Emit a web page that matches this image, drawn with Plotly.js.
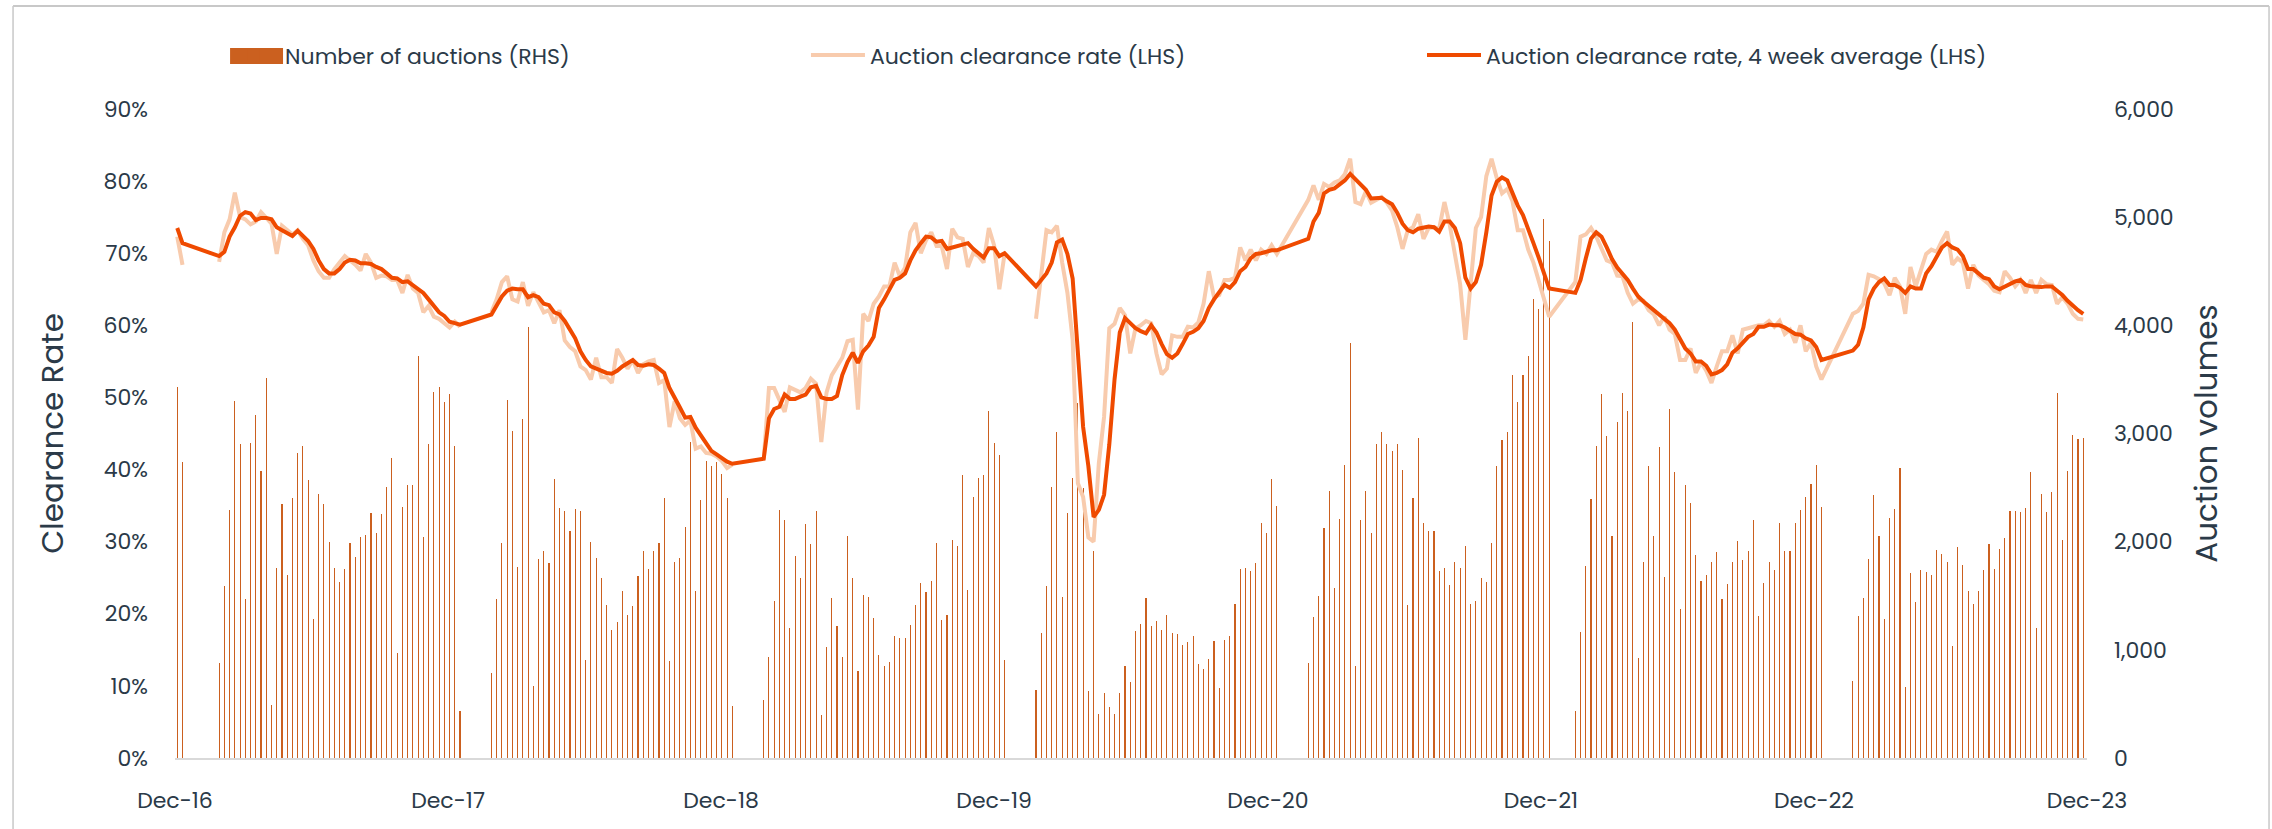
<!DOCTYPE html>
<html>
<head>
<meta charset="utf-8">
<script src="https://cdn.plot.ly/plotly-3.0.1.min.js"></script>
<style>html,body{margin:0;padding:0;background:#fff;}</style>
</head>
<body>
<div id="chart" style="width:2272px;height:829px;"></div>
<script>
// ---------- DATA (weekly) ----------
const seasonStarts = ['2016-12-04','2017-01-29','2018-01-28','2019-01-27','2020-01-26','2021-01-24','2022-01-16','2023-01-22'];
// raw clearance-rate line connects across the summer gap before these seasons
const rawConnectsToPrevious = [false,false,false,false,false,true,true,true];

const auctions2016 = [3428,2732];
const auctions2017 = [880,1592,2292,3300,2900,1472,2916,3168,2656,3516,492,1752,2348,1688,2408,2824,2880,2572,1284,2440,2352,1996,1760,1624,1748,1984,1856,2040,2064,2268,2076,2256,2508,2776,968,2316,2524,2520,3712,2044,2904,3384,3432,3292,3368,2888,432];
const auctions2018 = [788,1468,1992,3312,3024,1764,3136,3988,668,1836,1916,1800,2576,2312,2280,2100,2300,2280,904,1996,1852,1668,1412,1180,1260,1540,1324,1404,1684,1916,1748,1916,1984,2404,896,1816,1852,2140,2924,1540,2384,2744,2700,2740,2628,2408,480];
const auctions2019 = [536,932,1448,2296,2200,1200,1872,1668,2164,1980,2280,400,1024,1476,1216,932,2052,1660,804,1508,1484,1296,956,848,892,1124,1112,1112,1228,1416,1620,1536,1636,1984,1280,1324,2020,1956,2620,1556,2412,2588,2612,3204,2908,2800,908];
const auctions2020 = [628,1160,1590,2510,3015,1485,2265,2590,3280,2500,620,1910,405,605,470,410,605,850,700,1170,1240,1475,1224,1268,1180,1324,1152,1148,1048,1068,1124,868,820,912,1080,648,1088,1132,1428,1748,1752,1732,1804,2172,2084,2580,2328];
const auctions2021 = [880,1304,1496,2128,2472,1568,2212,2708,3836,848,2196,2464,2084,2900,3012,2900,2836,2900,2660,1412,2400,2960,2168,2100,2096,1728,1756,1604,1816,1760,1956,1420,1448,1668,1624,1984,2704,2940,3016,3544,3292,3540,3712,4248,4152,4980,4780];
const auctions2022 = [432,1168,1772,2396,2884,3368,2980,2056,3108,3372,3212,4032,928,1816,2696,2056,2876,1672,3224,2648,1380,2528,2360,1876,1632,1688,1812,1908,1472,1612,1812,2004,1828,1916,2200,1316,1620,1812,1740,2168,1916,1916,2168,2296,2412,2532,2712,2320];
const auctions2023 = [712,1316,1476,1844,2428,2052,1284,2220,2300,2680,652,1708,1440,1740,1720,1688,1920,1884,1812,1032,1948,1788,1540,1428,1540,1736,1976,1748,1928,2036,2280,2280,2272,2312,2648,1200,2444,2276,2460,3376,2020,2652,2988,2948,2960];

const rate2016 = [72.3,68.4];
const rate2017 = [68.8,72.9,74.7,78.4,75.0,74.7,74.0,74.4,75.7,74.9,74.1,69.9,73.8,73.2,72.6,73.2,72.0,71.1,69.0,67.5,66.6,66.6,67.8,68.7,69.6,69.0,68.4,67.6,69.9,68.7,66.6,66.9,66.8,66.3,66.3,64.5,67.0,65.1,64.5,61.8,62.7,61.2,60.9,60.3,59.7,60.5,59.8];
const rate2018 = [61.8,63.6,66.0,66.8,63.6,63.3,66.0,62.7,64.6,63.3,61.8,62.1,60.3,62.1,57.9,57.0,56.4,54.3,53.8,52.5,55.5,52.8,52.8,52.0,56.7,55.5,54.0,55.2,53.4,54.6,55.0,55.2,52.0,52.4,45.9,49.5,47.1,46.2,46.8,42.9,43.2,42.3,42.2,41.8,41.2,40.2,40.7];
const rate2019 = [41.4,51.3,51.3,49.5,48.0,51.4,51.0,50.7,51.3,52.6,51.9,43.8,50.7,53.1,54.3,55.5,57.8,58.0,48.3,61.6,60.6,63.0,64.0,65.4,65.4,68.7,66.8,68.0,72.9,74.2,70.0,71.8,72.9,71.0,71.0,67.8,73.4,72.2,72.0,68.1,70.0,69.6,68.7,73.5,71.1,65.0,69.9];
const rate2020 = [60.9,67.5,73.2,72.9,73.8,68.7,64.5,58.0,38.1,36.2,30.6,30.0,40.9,47.3,59.6,60.2,62.4,61.4,56.1,59.6,60.0,60.6,60.3,56.1,53.2,54.0,58.6,58.4,58.4,59.8,59.7,60.4,63.0,67.5,63.9,64.2,66.3,66.3,66.6,70.8,69.0,70.5,69.0,70.5,69.9,71.1,69.9];
const rate2021 = [77.4,79.4,77.4,79.6,79.2,79.8,80.1,81.0,83.1,77.1,76.8,78.6,77.0,77.4,77.8,77.0,75.9,73.6,70.6,73.2,73.6,75.4,72.0,73.5,73.6,73.4,77.1,74.0,70.2,65.7,58.0,65.1,73.5,75.0,80.7,83.1,80.4,78.3,78.9,77.2,73.2,73.2,70.5,68.7,66.3,63.9,61.2];
const rate2022 = [66.0,72.3,72.6,73.5,72.3,70.5,69.0,68.7,66.9,66.8,64.5,63.0,63.6,63.4,62.1,61.5,60.0,61.2,59.4,58.8,55.2,55.2,56.8,53.4,54.9,53.7,52.0,54.3,56.4,56.4,58.6,56.1,59.4,59.6,59.8,60.0,60.0,60.6,59.8,60.6,58.8,59.4,57.6,60.0,56.4,57.6,54.3,52.5];
const rate2023 = [61.6,62.0,63.0,67.0,66.8,66.4,65.8,64.2,66.6,65.4,61.6,68.1,65.4,67.8,69.9,70.5,70.2,71.7,73.0,68.4,69.3,68.7,65.1,68.4,66.9,66.3,65.7,64.8,64.6,67.5,66.6,65.4,66.3,64.5,66.3,64.5,66.3,65.7,65.6,63.0,63.9,63.0,61.6,60.9,60.8];

const avg2016 = [73.5,71.4];
const avg2017 = [69.6,70.2,72.3,73.6,75.2,75.7,75.5,74.6,74.9,74.9,74.7,73.6,73.2,72.8,72.4,73.1,72.4,71.7,70.6,69.0,67.8,67.2,67.2,67.8,68.7,69.1,69.0,68.6,68.6,68.5,68.1,67.8,67.2,66.6,66.5,66.0,66.1,65.6,65.1,64.5,63.6,62.7,61.8,61.3,60.5,60.3,60.1];
const avg2018 = [61.5,62.7,64.0,64.8,65.1,65.0,65.0,63.9,64.2,63.9,63.0,62.8,61.8,61.5,60.6,59.4,58.2,56.4,55.2,54.3,54.0,53.7,53.4,53.3,53.7,54.3,54.8,55.2,54.5,54.4,54.6,54.5,54.0,53.4,51.3,49.8,48.6,47.2,47.3,45.8,44.7,43.6,42.6,42.1,41.6,41.1,40.8];
const avg2019 = [41.5,47.1,48.4,48.7,50.4,49.8,49.8,50.1,50.4,51.4,51.6,50.0,49.8,49.8,50.2,53.1,54.9,56.2,54.8,56.4,57.2,58.4,62.4,63.6,65.0,66.3,66.6,67.2,69.0,70.4,71.4,72.3,72.2,71.6,71.7,70.6,70.8,71.0,71.3,71.4,70.6,70.0,69.4,70.7,70.7,69.6,70.0];
const avg2020 = [65.4,66.3,67.2,68.7,71.5,71.9,69.9,66.5,55.5,45.9,40.5,33.4,34.4,36.5,43.5,52.5,59.0,61.0,60.3,59.6,59.2,58.9,60.0,59.0,57.4,56.0,55.5,56.1,57.4,58.8,59.1,59.6,60.6,62.4,63.6,64.6,65.6,65.2,66.0,67.5,68.1,69.3,69.9,70.0,70.2,70.4,70.4];
const avg2021 = [72.0,74.4,75.6,78.3,78.8,79.0,79.6,80.1,81.0,80.2,79.4,78.8,77.6,77.6,77.7,77.2,76.8,75.6,74.1,73.2,72.9,73.4,73.6,73.7,73.6,73.0,74.4,74.4,73.5,71.4,66.6,65.1,66.0,68.4,72.9,78.0,79.9,80.5,80.1,78.3,76.6,75.3,73.5,71.4,69.4,67.2,65.1];
const avg2022 = [64.5,66.3,69.3,72.0,72.9,72.3,70.8,69.2,68.0,67.2,66.3,65.1,64.0,63.3,62.7,62.2,61.6,61.0,60.3,59.4,58.0,56.8,56.1,55.0,55.0,54.4,53.2,53.4,53.8,54.6,56.2,56.8,57.6,58.4,58.8,59.8,59.8,60.1,60.0,60.0,59.7,59.2,58.8,58.7,58.2,57.9,57.0,55.2];
const avg2023 = [56.5,57.3,59.7,63.6,65.1,66.0,66.5,65.6,65.6,65.2,64.5,65.4,65.1,65.1,67.2,68.2,69.6,70.8,71.4,70.8,70.5,69.6,67.8,67.8,67.2,66.6,66.4,65.4,65.0,65.4,65.8,66.1,66.3,65.6,65.4,65.3,65.3,65.4,65.4,64.8,64.2,63.4,62.7,62.1,61.6];

const auctionsBySeason = [auctions2016,auctions2017,auctions2018,auctions2019,auctions2020,auctions2021,auctions2022,auctions2023];
const rateBySeason = [rate2016,rate2017,rate2018,rate2019,rate2020,rate2021,rate2022,rate2023];
const avgBySeason = [avg2016,avg2017,avg2018,avg2019,avg2020,avg2021,avg2022,avg2023];

const seriesNames = ['Number of auctions (RHS)','Auction clearance rate (LHS)','Auction clearance rate, 4 week average (LHS)'];
const xTickStart = '2016-12-01';
const xRange = ['2016-12-01','2023-12-01'];

// ---------- BUILD ----------
function weekDates(start, n) {
  const d0 = new Date(start + 'T00:00:00Z');
  const out = [];
  for (let k = 0; k < n; k++) {
    const d = new Date(d0.getTime() + k * 7 * 86400000);
    out.push(d.toISOString().slice(0, 10));
  }
  return out;
}

const barX = [], barY = [], rawX = [], rawY = [], avgX = [], avgY = [];
seasonStarts.forEach((start, s) => {
  const dates = weekDates(start, auctionsBySeason[s].length);
  dates.forEach((d, k) => { barX.push(d); barY.push(auctionsBySeason[s][k]); });
  if (s > 0 && !rawConnectsToPrevious[s]) { rawX.push(dates[0]); rawY.push(null); }
  dates.forEach((d, k) => { rawX.push(d); rawY.push(rateBySeason[s][k]); });
  dates.forEach((d, k) => { avgX.push(d); avgY.push(avgBySeason[s][k]); });
});

const FONT = 'Poppins, "Open Sans", sans-serif';
const TXT = '#2B3A48';
const BAR_COLOR = '#CB601F';

const traces = [
  {
    type: 'bar', name: seriesNames[0], x: barX, y: barY, yaxis: 'y', legend: 'legend',
    width: 0.15 * 86400000,
    marker: { color: BAR_COLOR, line: { width: 0 } },
    hoverinfo: 'x+y'
  },
  {
    type: 'scatter', mode: 'lines', name: seriesNames[1], x: rawX, y: rawY, yaxis: 'y2', legend: 'legend2',
    connectgaps: false,
    line: { color: '#F8CBAD', width: 4 }
  },
  {
    type: 'scatter', mode: 'lines', name: seriesNames[2], x: avgX, y: avgY, yaxis: 'y2', legend: 'legend3',
    connectgaps: true,
    line: { color: '#EF4A00', width: 4 }
  }
];

const legendBase = {
  orientation: 'h', y: 1.083, yanchor: 'middle', xanchor: 'left', itemwidth: 54,
  font: { family: FONT, size: 22, color: TXT }, bgcolor: 'rgba(0,0,0,0)'
};

const layout = {
  width: 2272, height: 829,
  paper_bgcolor: '#FFFFFF', plot_bgcolor: '#FFFFFF',
  margin: { l: 175, r: 185, t: 109, b: 71, pad: 0 },
  font: { family: FONT, size: 22, color: TXT },
  showlegend: true,
  bargap: 0,
  legend: Object.assign({}, legendBase, { x: 0.0241 }),
  legend2: Object.assign({}, legendBase, { x: 0.3300 }),
  legend3: Object.assign({}, legendBase, { x: 0.6522 }),
  xaxis: {
    type: 'date', range: xRange,
    tick0: xTickStart, dtick: 'M12', tickformat: '%b-%y',
    showgrid: false, zeroline: false,
    showline: true, linecolor: '#D9D9D9', linewidth: 2,
    ticks: '', ticklabelstandoff: 22,
    tickfont: { family: FONT, size: 22, color: TXT }
  },
  yaxis: {
    side: 'right', range: [0, 6000], dtick: 1000, tickformat: ',',
    showgrid: false, zeroline: false, showline: false, ticks: '',
    ticklabelstandoff: 26,
    tickfont: { family: FONT, size: 22, color: TXT },
    title: { text: 'Auction volumes', font: { family: FONT, size: 31, color: TXT }, standoff: 22 }
  },
  yaxis2: {
    overlaying: 'y', side: 'left', range: [0, 90], dtick: 10, ticksuffix: '%',
    showgrid: false, zeroline: false, showline: false, ticks: '',
    ticklabelstandoff: 26,
    tickfont: { family: FONT, size: 22, color: TXT },
    title: { text: 'Clearance Rate', font: { family: FONT, size: 31, color: TXT }, standoff: 30 }
  },
  shapes: [
    // legend key block for the bar series (the reference uses a wide swatch)
    { type: 'rect', xref: 'paper', yref: 'paper', x0: 0.0288, x1: 0.0565, y0: 1.0939, y1: 1.0693, fillcolor: BAR_COLOR, line: { width: 0 } },
    // outer frame
    { type: 'line', xref: 'paper', yref: 'paper', x0: -0.0847, x1: 1.0952, y0: 1.1587, y1: 1.1587, line: { color: '#C8C8C8', width: 2 } },
    { type: 'line', xref: 'paper', yref: 'paper', x0: -0.0847, x1: -0.0847, y0: 1.1587, y1: -0.12, line: { color: '#C8C8C8', width: 1.5 } },
    { type: 'line', xref: 'paper', yref: 'paper', x0: 1.0952, x1: 1.0952, y0: 1.1587, y1: -0.12, line: { color: '#C8C8C8', width: 1.5 } }
  ]
};

Plotly.newPlot('chart', traces, layout, { displayModeBar: false, responsive: false });
</script>
</body>
</html>
